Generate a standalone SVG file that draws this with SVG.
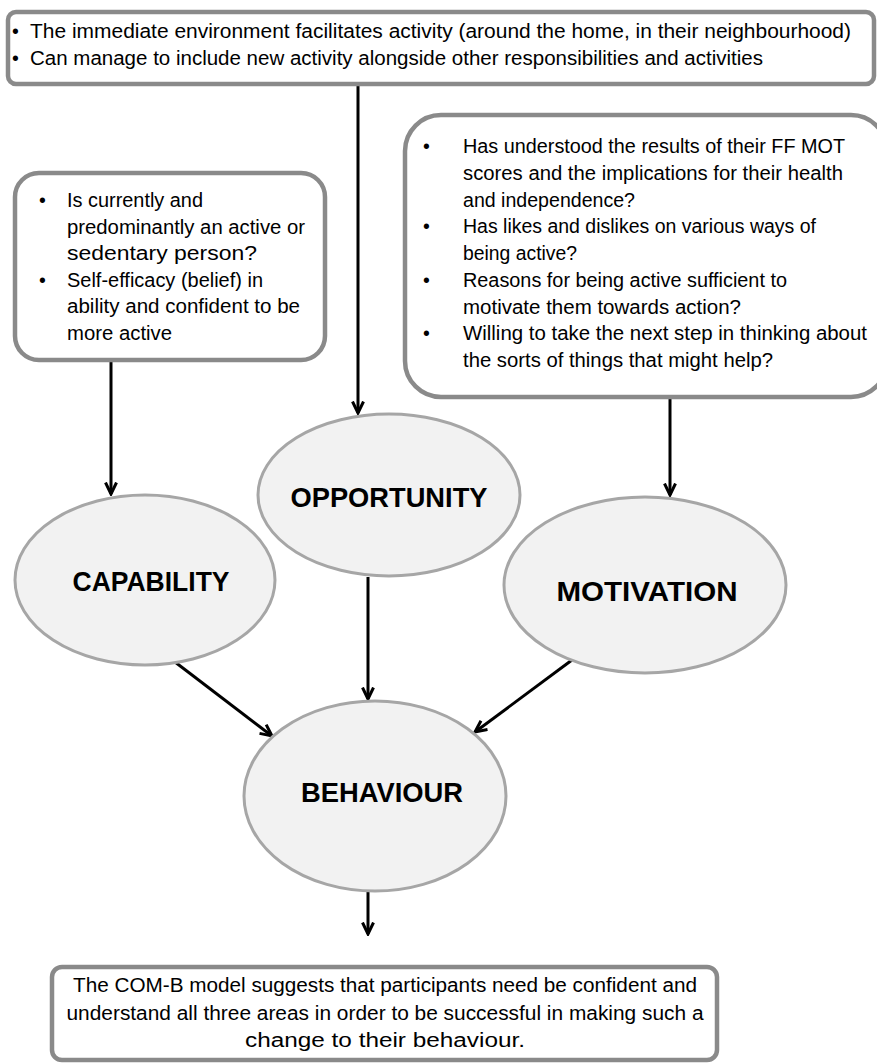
<svg xmlns="http://www.w3.org/2000/svg" width="877" height="1063" viewBox="0 0 877 1063">
<style>
.box{fill:#ffffff;stroke:#8a8a8a;stroke-width:4.5}
.ell{fill:#f2f2f2;stroke:#a6a6a6;stroke-width:3}
.t{font-family:"Liberation Sans",Arial,sans-serif;font-size:19.5px;fill:#000}
.b{font-family:"Liberation Sans",Arial,sans-serif;font-size:28px;font-weight:bold;fill:#000}
.c{stroke:#000;stroke-width:3;fill:none}
</style>
<defs>
<marker id="ah" markerUnits="userSpaceOnUse" viewBox="0 0 14 14" refX="12.5" refY="7" markerWidth="14" markerHeight="14" orient="auto">
<path d="M1,1.5 L12.5,7 L1,12.5" fill="none" stroke="#000" stroke-width="3"/>
</marker>
</defs>
<g id="connectors">
<line class="c" x1="358" y1="86" x2="358" y2="413" marker-end="url(#ah)"/>
<line class="c" x1="111" y1="361" x2="111" y2="494" marker-end="url(#ah)"/>
<line class="c" x1="670" y1="398" x2="670" y2="495" marker-end="url(#ah)"/>
<line class="c" x1="368" y1="577" x2="368" y2="699" marker-end="url(#ah)"/>
<line class="c" x1="175" y1="662" x2="272" y2="736" marker-end="url(#ah)"/>
<line class="c" x1="572" y1="660" x2="475" y2="732" marker-end="url(#ah)"/>
<line class="c" x1="368" y1="892" x2="368" y2="934" marker-end="url(#ah)"/>
</g>
<g id="top-box">
<rect class="box" x="8" y="12" width="866" height="72" rx="8"/>
<text class="t" x="12" y="38">•</text>
<text class="t" x="30" y="38" textLength="821" lengthAdjust="spacingAndGlyphs">The immediate environment facilitates activity (around the home, in their neighbourhood)</text>
<text class="t" x="12" y="65">•</text>
<text class="t" x="30" y="65" textLength="733" lengthAdjust="spacingAndGlyphs">Can manage to include new activity alongside other responsibilities and activities</text>
</g>
<g id="capability-box">
<rect class="box" x="15" y="173" width="310" height="187" rx="24"/>
<text class="t" x="39" y="207">•</text>
<text class="t" x="67" y="207" textLength="136" lengthAdjust="spacingAndGlyphs">Is currently and</text>
<text class="t" x="67" y="234" textLength="238" lengthAdjust="spacingAndGlyphs">predominantly an active or</text>
<text class="t" x="67" y="260" textLength="190" lengthAdjust="spacingAndGlyphs">sedentary person?</text>
<text class="t" x="39" y="287">•</text>
<text class="t" x="67" y="287" textLength="196" lengthAdjust="spacingAndGlyphs">Self-efficacy (belief) in</text>
<text class="t" x="67" y="313" textLength="233" lengthAdjust="spacingAndGlyphs">ability and confident to be</text>
<text class="t" x="67" y="340" textLength="105" lengthAdjust="spacingAndGlyphs">more active</text>
</g>
<g id="motivation-box">
<rect class="box" x="405" y="115" width="482" height="282" rx="36"/>
<text class="t" x="423" y="153">•</text>
<text class="t" x="463" y="153" textLength="382" lengthAdjust="spacingAndGlyphs">Has understood the results of their FF MOT</text>
<text class="t" x="463" y="180" textLength="380" lengthAdjust="spacingAndGlyphs">scores and the implications for their health</text>
<text class="t" x="463" y="207" textLength="172" lengthAdjust="spacingAndGlyphs">and independence?</text>
<text class="t" x="423" y="233">•</text>
<text class="t" x="463" y="233" textLength="353" lengthAdjust="spacingAndGlyphs">Has likes and dislikes on various ways of</text>
<text class="t" x="463" y="260" textLength="114" lengthAdjust="spacingAndGlyphs">being active?</text>
<text class="t" x="423" y="287">•</text>
<text class="t" x="463" y="287" textLength="324" lengthAdjust="spacingAndGlyphs">Reasons for being active sufficient to</text>
<text class="t" x="463" y="314" textLength="278" lengthAdjust="spacingAndGlyphs">motivate them towards action?</text>
<text class="t" x="423" y="340">•</text>
<text class="t" x="463" y="340" textLength="404" lengthAdjust="spacingAndGlyphs">Willing to take the next step in thinking about</text>
<text class="t" x="463" y="367" textLength="310" lengthAdjust="spacingAndGlyphs">the sorts of things that might help?</text>
</g>
<g id="opportunity">
<ellipse class="ell" cx="389" cy="495" rx="131" ry="81"/>
<text class="b" x="389" y="507" text-anchor="middle" textLength="197" lengthAdjust="spacingAndGlyphs">OPPORTUNITY</text>
</g>
<g id="capability">
<ellipse class="ell" cx="145" cy="580" rx="130" ry="85"/>
<text class="b" x="151" y="591" text-anchor="middle" textLength="157" lengthAdjust="spacingAndGlyphs">CAPABILITY</text>
</g>
<g id="motivation">
<ellipse class="ell" cx="645" cy="585" rx="141" ry="88"/>
<text class="b" x="647" y="601" text-anchor="middle" textLength="181" lengthAdjust="spacingAndGlyphs">MOTIVATION</text>
</g>
<g id="behaviour">
<ellipse class="ell" cx="375" cy="796" rx="131" ry="95"/>
<text class="b" x="382" y="802" text-anchor="middle" textLength="162" lengthAdjust="spacingAndGlyphs">BEHAVIOUR</text>
</g>
<g id="summary-box">
<rect class="box" x="52" y="967" width="665" height="93" rx="10"/>
<text class="t" x="385" y="992" text-anchor="middle" textLength="624" lengthAdjust="spacingAndGlyphs">The COM-B model suggests that participants need be confident and</text>
<text class="t" x="385" y="1020" text-anchor="middle" textLength="637" lengthAdjust="spacingAndGlyphs">understand all three areas in order to be successful in making such a</text>
<text class="t" x="385" y="1047" text-anchor="middle" textLength="280" lengthAdjust="spacingAndGlyphs">change to their behaviour.</text>
</g>
</svg>
